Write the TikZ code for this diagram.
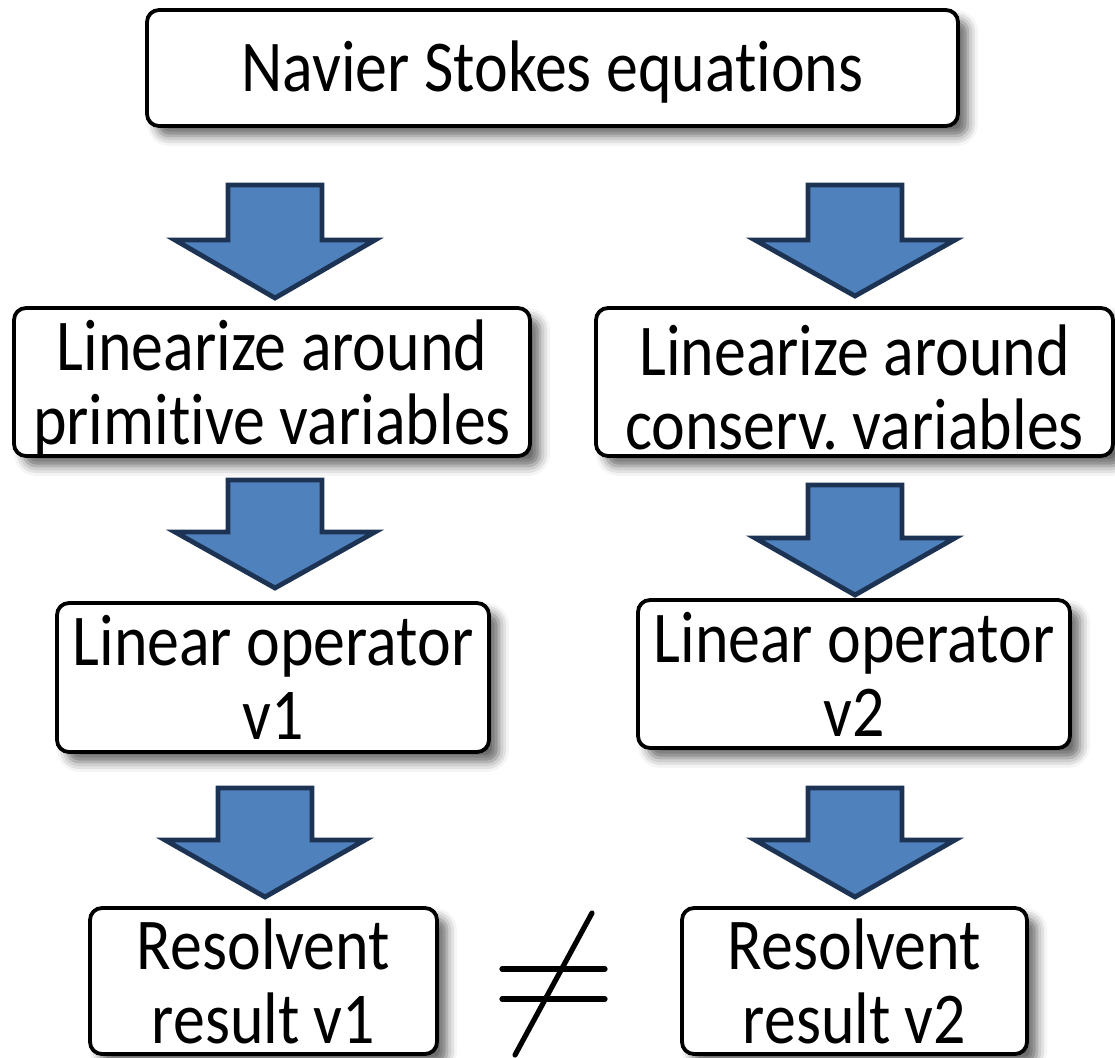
\documentclass[tikz,border=0pt]{standalone}
\usepackage{fontspec}
\setmainfont[FakeStretch=0.875, Ligatures=NoCommon]{Carlito}
\usetikzlibrary{shadows.blur}
\definecolor{arrowfill}{HTML}{4F81BD}
\definecolor{arrowline}{HTML}{1C3354}
\tikzset{
  stepbox/.style={draw, line width=1.9pt, rounded corners=6pt, fill=white, align=center, inner sep=0pt,
    font=\fontsize{36.5}{37}\selectfont,
    blur shadow={shadow xshift=5pt, shadow yshift=-5pt, shadow blur radius=5pt, shadow opacity=60}},
  blockarrow/.style={draw=arrowline, fill=arrowfill, line width=2.4pt, line join=miter}
}
\newcommand{\downblock}[4]{% centre x, top, shoulder, tip
  \path[blockarrow] (#1-47,#2) -- (#1+47,#2) -- (#1+47,#3) -- (#1+100,#3) -- (#1,#4)
    -- (#1-100,#3) -- (#1-47,#3) -- cycle;}
\newcommand{\lift}[1]{\rule{0pt}{#1}}
\begin{document}
\begin{tikzpicture}[x=0.5pt, y=-0.5pt]
\useasboundingbox (0,0) rectangle (1115,1057);

\node[stepbox, minimum width=405.5pt, minimum height=58pt] (ns) at (552.5,68) {\lift{29.5pt}Navier Stokes equations};

\node[stepbox, minimum width=258pt, minimum height=74pt] (linp) at (272,382) {\lift{31pt}Linearize around\\primitive variables};
\node[stepbox, minimum width=258.5pt, minimum height=74pt] (linc) at (854.5,382) {\lift{31pt}Linearize around\\conserv.\ variables};

\node[stepbox, minimum width=216pt, minimum height=74.5pt] (op1) at (273,677.5) {Linear operator\\v1};
\node[stepbox, minimum width=216pt, minimum height=74pt] (op2) at (854,674) {Linear operator\\v2};

\node[stepbox, minimum width=173.5pt, minimum height=73pt] (res1) at (263.5,981) {Resolvent\\result v1};
\node[stepbox, minimum width=172.5pt, minimum height=73pt] (res2) at (854.5,981) {Resolvent\\result v2};

\foreach \cx/\tp/\sh/\tip in {275/185/240/298, 855/185/240/296, 275/480/532/588,
    855/485/538/595, 265/788/840/897, 855/788/840/897}
  \downblock{\cx}{\tp}{\sh}{\tip};

% not equal
\draw[line width=2.6pt, line cap=round] (502,969) -- (605,969);
\draw[line width=2.6pt, line cap=round] (502,999) -- (605,999);
\draw[line width=2.6pt, line cap=round] (592,913) -- (515,1055);
\end{tikzpicture}
\end{document}
